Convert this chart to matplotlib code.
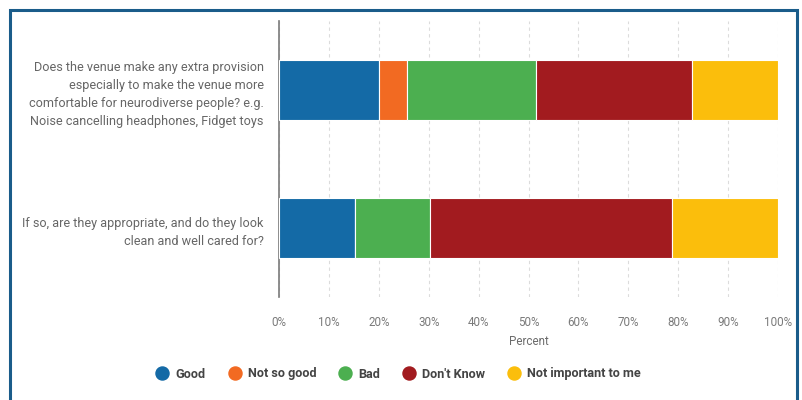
import matplotlib
matplotlib.use("Agg")
import matplotlib.pyplot as plt
from matplotlib.patches import Rectangle
from matplotlib.lines import Line2D
import numpy as np

plt.rcParams['font.family'] = ['Roboto', 'DejaVu Sans']

questions = [
    "Does the venue make any extra provision\nespecially to make the venue more\ncomfortable for neurodiverse people? e.g.\nNoise cancelling headphones, Fidget toys",
    "If so, are they appropriate, and do they look\nclean and well cared for?",
]
responses = ["Good", "Not so good", "Bad", "Don't Know", "Not important to me"]
colors = ["#146aa6", "#f26a22", "#4caf50", "#a21b1f", "#fbbe0c"]

# percent of answers per response, one list per response category
good = [20.0, 15.15]
not_so_good = [5.71, 0.0]
bad = [25.71, 15.15]
dont_know = [31.43, 48.49]
not_important = [17.14, 21.21]
series = [good, not_so_good, bad, dont_know, not_important]

ticks = list(range(0, 101, 10))
tick_labels = [f"{t}%" for t in ticks]

fig = plt.figure(figsize=(8.02, 4.0), dpi=100)
ax = fig.add_axes([279 / 802, 1 - 297 / 400, (778 - 279) / 802, (297 - 21) / 400])

y = np.arange(len(questions))
left = np.zeros(len(questions))
for vals, col, name in zip(series, colors, responses):
    vals = np.array(vals)
    ax.barh(y, vals, left=left, height=0.43, color=col, edgecolor="white",
            linewidth=0.8, label=name, zorder=3)
    left += vals

ax.set_xlim(0, 100)
ax.set_ylim(1.5, -0.5)
ax.set_yticks(y)
ax.set_yticklabels(questions, fontsize=9.1, color="#666666", linespacing=1.5)
ax.set_xticks(ticks)
ax.set_xticklabels(tick_labels, fontsize=8.4, color="#7a7a7a")
ax.tick_params(axis="both", length=0)
ax.tick_params(axis="y", pad=11)
ax.tick_params(axis="x", pad=14)
ax.set_xlabel("Percent", fontsize=8.4, color="#6b6b6b", labelpad=4)

ax.grid(axis="x", color="#dcdcdc", linestyle=(0, (3, 3)), linewidth=0.8, zorder=0)
for side in ["top", "right", "bottom"]:
    ax.spines[side].set_visible(False)
ax.spines["left"].set_color("#7a7a7a")
ax.spines["left"].set_linewidth(1.2)

handles = [Line2D([0], [0], marker="o", linestyle="", markersize=9.4,
                  markerfacecolor=c, markeredgecolor=c) for c in colors]
leg = fig.legend(handles, responses, loc="center", bbox_to_anchor=(398.5 / 802, 1 - 374 / 400),
                 ncol=5, frameon=False, handlelength=1.0, handletextpad=0.53,
                 columnspacing=1.8, prop={"weight": "bold", "size": 9.1})
for txt in leg.get_texts():
    txt.set_color("#444444")

# outer panel frame
fig.patches.append(Rectangle((10 / 802, -0.1), (797 - 10) / 802, 1.1 - 10 / 400,
                             transform=fig.transFigure, fill=False,
                             edgecolor="#1a5c8a", linewidth=2.2))

fig.savefig("out.png", dpi=100)
